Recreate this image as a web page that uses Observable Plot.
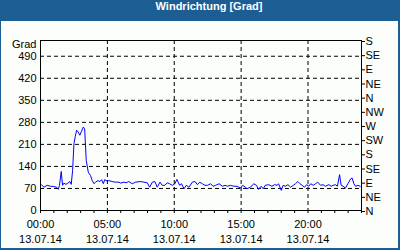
<!DOCTYPE html>
<html><head><meta charset="utf-8">
<script src="https://cdn.jsdelivr.net/npm/d3@7"></script>
<script src="https://cdn.jsdelivr.net/npm/@observablehq/plot@0.6"></script>
<style>
html,body{margin:0;padding:0;background:#fff;}
#frame{position:relative;width:400px;height:250px;box-sizing:border-box;background:#1c5e94;overflow:hidden;}
#title{position:absolute;left:9px;top:0;width:400px;height:21px;line-height:21px;text-align:center;color:#fff;font:bold 11px "Liberation Sans",Arial,sans-serif;}
#chart{position:absolute;left:1px;top:21px;width:397px;height:227px;background:#fbfefb;}
#chart svg{display:block;}
</style></head><body>
<div id="frame"><div id="title">Windrichtung [Grad]</div><div id="chart"></div></div>
<script>
const hours = [0.07,0.25,0.5,0.75,1.0,1.2,1.32,1.42,1.55,1.65,1.75,1.9,2.05,2.2,2.3,2.4,2.5,2.6,2.7,2.82,2.94,3.07,3.2,3.3,3.42,3.57,3.74,3.87,4.0,4.12,4.3,4.44,4.57,4.7,4.8,5.0,5.1,5.36,5.6,5.86,6.0,6.24,6.4,6.6,6.86,7.1,7.49,7.73,7.98,8.16,8.36,8.55,8.73,8.93,9.1,9.3,9.48,9.65,9.86,10.05,10.2,10.4,10.55,10.73,10.9,11.1,11.35,11.55,11.73,11.9,12.1,12.3,12.48,12.72,12.9,13.1,13.35,13.6,13.8,13.97,14.2,14.47,14.7,14.97,15.1,15.3,15.44,15.7,15.94,16.15,16.3,16.5,16.65,16.8,17.07,17.3,17.5,17.7,17.8,18.0,18.14,18.3,18.5,18.7,18.9,19.06,19.24,19.4,19.56,19.74,19.9,20.06,20.2,20.4,20.56,20.73,20.94,21.13,21.3,21.56,21.73,21.88,22.06,22.2,22.36,22.48,22.63,22.8,22.98,23.2,23.3,23.43,23.56,23.73,23.9];
const degrees = [82,74,80,77,76,74,67,80,124,80,87,83,87,92,83,127,212,235,255,249,239,252,265,260,159,122,111,95,85,90,95,92,98,85,98,93,95,92,90,90,87,90,88,92,85,90,92,90,88,74,90,92,74,90,80,80,88,85,80,85,99,80,85,69,80,74,90,92,82,90,85,80,80,85,77,80,85,77,80,77,80,77,77,71,80,75,69,74,85,80,67,77,69,80,82,77,82,80,85,64,80,77,82,74,80,85,92,85,80,74,82,77,85,80,85,90,80,82,77,82,77,80,82,77,114,80,77,71,85,101,103,85,77,80,77];

const hourTicks = [0,1,2,3,4,5,6,7,8,9,10,11,12,13,14,15,16,17,18,19,20,21,22,23,24];
const labelHours = [0,5,10,15,20];
const timeLabels = ["00:00","05:00","10:00","15:00","20:00"];
const dateLabels = ["13.07.14","13.07.14","13.07.14","13.07.14","13.07.14"];
const leftTicks = [0,70,140,210,280,350,420,490];
const gridDegrees = [70,140,210,280,350,420,490];
const gridHours = [5,10,15,20];
const compassTicks = [0,45,90,135,180,225,270,315,360,405,450,495,540];
const compassLabels = ["N","NE","E","SE","S","SW","W","NW","N","NE","E","SE","S"];
const unitLabel = "Grad";

const data = hours.map((h, i) => ({hour: h, deg: degrees[i]}));

const chart = Plot.plot({
  width: 397, height: 227,
  marginLeft: 39, marginRight: 37, marginTop: 19, marginBottom: 38,
  style: {background: "#fbfefb", fontFamily: "'Liberation Sans', Arial, sans-serif", fontSize: "11px", color: "black"},
  x: {type: "linear", domain: [0, 24], axis: null},
  y: {type: "linear", domain: [0, 540], axis: null},
  marks: [
    Plot.gridY(gridDegrees, {stroke: "black", strokeOpacity: 1, strokeDasharray: "4,3"}),
    Plot.gridX(gridHours, {stroke: "black", strokeOpacity: 1, strokeDasharray: "4,3"}),
    Plot.line(data, {x: "hour", y: "deg", stroke: "#0000ff", strokeWidth: 1}),
    Plot.frame({stroke: "black"}),
    Plot.axisX(hourTicks, {tickSize: 3, label: null, tickFormat: () => ""}),
    Plot.axisX(labelHours, {tickSize: 0, tickPadding: 10, label: null, tickFormat: d => timeLabels[labelHours.indexOf(d)]}),
    Plot.axisX(labelHours, {tickSize: 0, tickPadding: 25, label: null, tickFormat: d => dateLabels[labelHours.indexOf(d)]}),
    Plot.axisY(leftTicks, {anchor: "left", tickSize: 0, tickPadding: 4, label: null}),
    Plot.axisY(compassTicks, {anchor: "right", tickSize: 3, tickPadding: 1, dy: 1, label: null, tickFormat: d => compassLabels[compassTicks.indexOf(d)]}),
    Plot.text([unitLabel], {frameAnchor: "top-left", lineAnchor: "middle", dx: -4, dy: 3.5, textAnchor: "end", fill: "black"})
  ]
});
document.getElementById("chart").appendChild(chart);
</script>
</body></html>
